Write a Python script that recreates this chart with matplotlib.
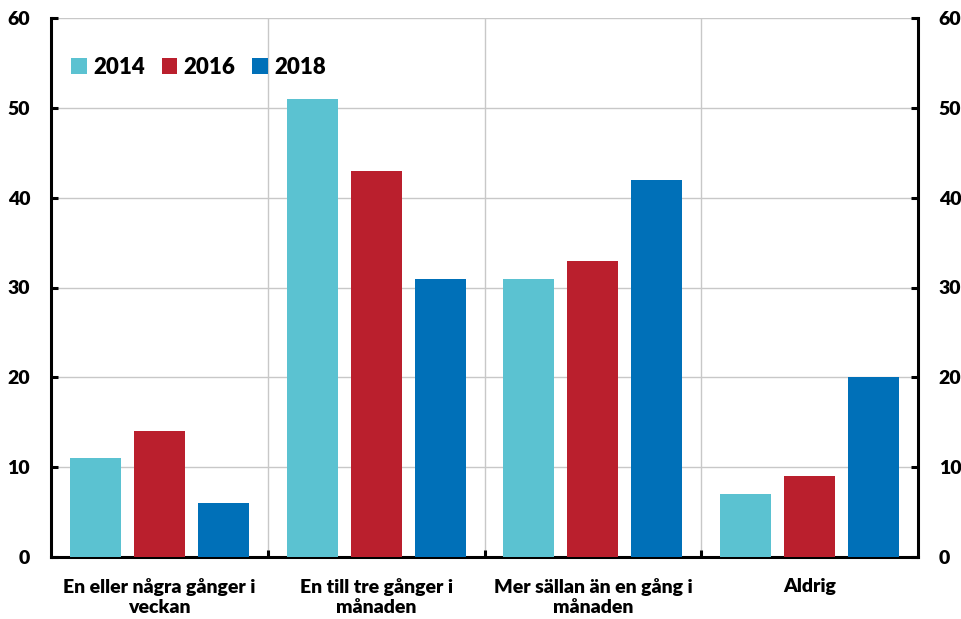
import matplotlib
matplotlib.use("Agg")
import matplotlib.pyplot as plt
import numpy as np

categories = ["En eller några gånger i\nveckan", "En till tre gånger i\nmånaden",
              "Mer sällan än en gång i\nmånaden", "Aldrig"]
series_names = ["2014", "2016", "2018"]
v2014 = [11, 51, 31, 7]
v2016 = [14, 43, 33, 9]
v2018 = [6, 31, 42, 20]
colors = ["#5BC2D1", "#BA1F2D", "#0070B8"]
yticks = [0, 10, 20, 30, 40, 50, 60]

plt.rcParams['font.family'] = ['Lato', 'DejaVu Sans']
W = 'heavy'

fig = plt.figure(figsize=(9.61, 6.19), dpi=100)
ax = fig.add_axes([51/961, 62/619, (918-51)/961, (557-18)/619])

x = np.arange(len(categories))
offs = [-0.295, 0, 0.295]
w = 0.235
for vals, name, c, o in zip([v2014, v2016, v2018], series_names, colors, offs):
    ax.bar(x + o, vals, width=w, color=c, label=name, zorder=3)

ax.set_xlim(-0.5, len(categories) - 0.5)
ax.set_ylim(0, 60)
ax.set_yticks(yticks)
ax.set_yticklabels([str(t) for t in yticks])
ax.grid(axis='y', color='#C8C8C8', linewidth=1, zorder=0)
for b in np.arange(0.5, len(categories) - 0.5, 1):
    ax.axvline(b, color='#C8C8C8', linewidth=1, zorder=0)

ax.set_xticks(x)
ax.set_xticklabels(categories, fontsize=14, fontweight=W, linespacing=1.25)
ax.tick_params(axis='x', which='major', length=0, pad=15)
ax.set_xticks(np.arange(0.5, len(categories) - 0.5, 1), minor=True)
ax.tick_params(axis='x', which='minor', direction='in', length=5, width=2.2)

ax.tick_params(axis='y', direction='in', length=5, width=2.2, pad=15,
               left=True, right=True, labelleft=True, labelright=True)
for t in ax.yaxis.get_major_ticks():
    for lab in (t.label1, t.label2):
        lab.set_fontsize(14)
        lab.set_fontweight(W)

ax.spines['top'].set_visible(False)
for s in ['left', 'right', 'bottom']:
    ax.spines[s].set_linewidth(2.2)
    ax.spines[s].set_color('black')

leg = ax.legend(loc='upper left', bbox_to_anchor=(0.0, 0.965), ncol=3, frameon=False,
                prop={'size': 16, 'weight': W}, handlelength=0.7, handleheight=0.7,
                handletextpad=0.3, columnspacing=0.75)

fig.savefig("out.png", dpi=100)
